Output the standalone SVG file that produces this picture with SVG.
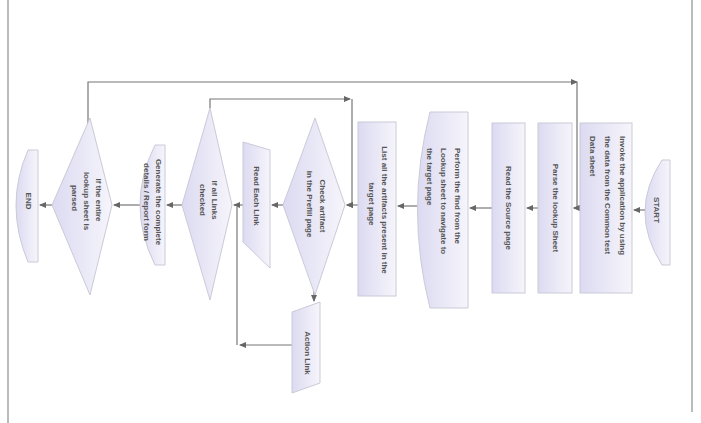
<svg xmlns="http://www.w3.org/2000/svg" width="701" height="423" viewBox="0 0 701 423">
<defs>
<linearGradient id="g" x1="0" y1="0" x2="1" y2="0">
<stop offset="0" stop-color="#dcdaf1"/>
<stop offset="1" stop-color="#f6f5fb"/>
</linearGradient>
<marker id="a" markerWidth="8" markerHeight="8" refX="6" refY="4" orient="auto" markerUnits="userSpaceOnUse">
<path d="M0,1 L7,4 L0,7 Z" fill="#666"/>
</marker>
<style>
.s{fill:url(#g);stroke:#cacad8;stroke-width:1}
.c{fill:none;stroke:#777;stroke-width:1.2;marker-end:url(#a)}
.l{fill:none;stroke:#777;stroke-width:1.2}
.t{font-family:"Liberation Sans",Arial,sans-serif;font-size:8px;font-weight:bold;fill:#555;dominant-baseline:central}
.m{text-anchor:middle}
.f{stroke:#bbb;stroke-width:2}
</style>
</defs>
<rect width="701" height="423" fill="#fff"/>
<line class="f" x1="8" y1="0" x2="8" y2="423"/>
<line class="f" x1="692" y1="0" x2="692" y2="412"/>

<g id="connectors">
<path class="c" d="M645,210 H634"/>
<path class="c" d="M580,208 H574"/>
<path class="c" d="M88,128 V82 H577"/>
<path class="c" d="M577,82 V208 H574"/>
<path class="c" d="M538,208 H527"/>
<path class="c" d="M492,208 H470"/>
<path class="c" d="M417,206 H398"/>
<path class="c" d="M358,205 H347"/>
<path class="c" d="M210,108 V99 H350"/>
<path class="c" d="M352,99 V205 H347"/>
<path class="c" d="M283,205 H272"/>
<path class="c" d="M314,285 V301"/>
<path class="c" d="M243,205 H234"/>
<path class="c" d="M292,345 H240"/>
<path class="l" d="M237,345 V207"/>
<path class="c" d="M182,205 H167"/>
<path class="c" d="M140,205 H114"/>
<path class="c" d="M52,205 H40"/>
</g>

<g id="start">
<path class="s" d="M670,160 L662,160 Q628,212 662,265 L670,265 Z"/>
<text class="t m" transform="rotate(90 656 210)" x="656" y="210">START</text>
</g>
<g id="invoke">
<rect class="s" x="580" y="123" width="52" height="170"/>
<text class="t" transform="rotate(90 622 136)" x="622" y="136">Invoke the application by using</text>
<text class="t" transform="rotate(90 607 136)" x="607" y="136">the data from the Common test</text>
<text class="t" transform="rotate(90 592 136)" x="592" y="136">Data sheet</text>
</g>
<g id="parse">
<rect class="s" x="538" y="123" width="34" height="170"/>
<text class="t m" transform="rotate(90 555 208)" x="555" y="208">Parse the lookup Sheet</text>
</g>
<g id="read">
<rect class="s" x="492" y="123" width="33" height="170"/>
<text class="t m" transform="rotate(90 508 208)" x="508" y="208">Read the Source page</text>
</g>
<g id="perform">
<path class="s" d="M468,112 L468,308 L430,308 Q405,210 430,112 Z"/>
<text class="t" transform="rotate(90 457 148)" x="457" y="148">Perform the find from the</text>
<text class="t" transform="rotate(90 443 148)" x="443" y="148">Lookup sheet to navigate to</text>
<text class="t" transform="rotate(90 429 148)" x="429" y="148">the target page</text>
</g>
<g id="list">
<rect class="s" x="358" y="122" width="38" height="174"/>
<text class="t m" transform="rotate(90 384 210)" x="384" y="210">List all the artifacts present in the</text>
<text class="t m" transform="rotate(90 371 204)" x="371" y="204">target page</text>
</g>
<g id="check">
<polygon class="s" points="345,205 315,118 283,205 315,295"/>
<text class="t m" transform="rotate(90 322 206)" x="322" y="206">Check artifact</text>
<text class="t m" transform="rotate(90 309 204)" x="309" y="204">in the Prefill page</text>
</g>
<g id="readlink">
<polygon class="s" points="243,142 270,150 270,268 243,242"/>
<text class="t m" transform="rotate(90 256 196)" x="256" y="196">Read Each Link</text>
</g>
<g id="action">
<polygon class="s" points="292,312 320,302 320,383 292,393"/>
<text class="t m" transform="rotate(90 307 353)" x="307" y="353">Action Link</text>
</g>
<g id="alllinks">
<polygon class="s" points="232,205 210,108 182,205 210,300"/>
<text class="t m" transform="rotate(90 214 200)" x="214" y="200">If all Links</text>
<text class="t m" transform="rotate(90 202 200)" x="202" y="200">checked</text>
</g>
<g id="generate">
<path class="s" d="M165,145 L155,145 Q125,205 155,265 L165,265 Z"/>
<text class="t m" transform="rotate(90 158 202)" x="158" y="202">Generate the complete</text>
<text class="t m" transform="rotate(90 146 202)" x="146" y="202">details / Report form</text>
</g>
<g id="entire">
<polygon class="s" points="112,205 90,118 52,205 90,295"/>
<text class="t m" transform="rotate(90 98 200)" x="98" y="200">If the entire</text>
<text class="t m" transform="rotate(90 86 201)" x="86" y="201">lookup sheet is</text>
<text class="t m" transform="rotate(90 74 198)" x="74" y="198">parsed</text>
</g>
<g id="end">
<path class="s" d="M38,150 L28,150 Q4,205 28,262 L38,262 Z"/>
<text class="t m" transform="rotate(90 28 201)" x="28" y="201">END</text>
</g>
</svg>
